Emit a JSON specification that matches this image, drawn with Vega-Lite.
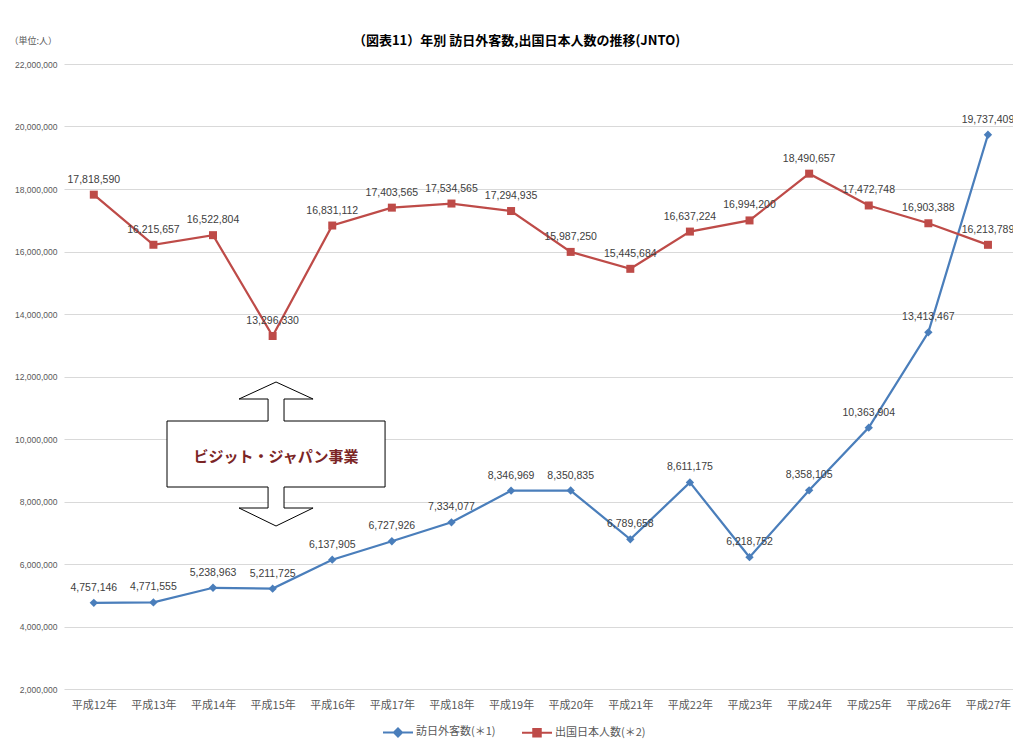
{
  "$schema": "https://vega.github.io/schema/vega-lite/v6.json",
  "width": 949,
  "height": 625,
  "autosize": "none",
  "padding": {"left": 64, "top": 64, "right": 0, "bottom": 53},
  "background": "white",
  "title": {"text": "（図表11）年別 訪日外客数,出国日本人数の推移(JNTO)", "fontSize": 13, "font": "Noto Sans CJK JP", "fontWeight": "bold", "color": "#000000", "anchor": "middle", "dx": -22, "dy": 26, "offset": 14},
  "config": {"view": {"stroke": null}},
  "datasets": {
    "main": [
      {"year": 12, "series": "訪日外客数(＊1)", "value": 4757146},
      {"year": 13, "series": "訪日外客数(＊1)", "value": 4771555},
      {"year": 14, "series": "訪日外客数(＊1)", "value": 5238963},
      {"year": 15, "series": "訪日外客数(＊1)", "value": 5211725},
      {"year": 16, "series": "訪日外客数(＊1)", "value": 6137905},
      {"year": 17, "series": "訪日外客数(＊1)", "value": 6727926},
      {"year": 18, "series": "訪日外客数(＊1)", "value": 7334077},
      {"year": 19, "series": "訪日外客数(＊1)", "value": 8346969},
      {"year": 20, "series": "訪日外客数(＊1)", "value": 8350835},
      {"year": 21, "series": "訪日外客数(＊1)", "value": 6789658},
      {"year": 22, "series": "訪日外客数(＊1)", "value": 8611175},
      {"year": 23, "series": "訪日外客数(＊1)", "value": 6218752},
      {"year": 24, "series": "訪日外客数(＊1)", "value": 8358105},
      {"year": 25, "series": "訪日外客数(＊1)", "value": 10363904},
      {"year": 26, "series": "訪日外客数(＊1)", "value": 13413467},
      {"year": 27, "series": "訪日外客数(＊1)", "value": 19737409},
      {"year": 12, "series": "出国日本人数(＊2)", "value": 17818590},
      {"year": 13, "series": "出国日本人数(＊2)", "value": 16215657},
      {"year": 14, "series": "出国日本人数(＊2)", "value": 16522804},
      {"year": 15, "series": "出国日本人数(＊2)", "value": 13296330},
      {"year": 16, "series": "出国日本人数(＊2)", "value": 16831112},
      {"year": 17, "series": "出国日本人数(＊2)", "value": 17403565},
      {"year": 18, "series": "出国日本人数(＊2)", "value": 17534565},
      {"year": 19, "series": "出国日本人数(＊2)", "value": 17294935},
      {"year": 20, "series": "出国日本人数(＊2)", "value": 15987250},
      {"year": 21, "series": "出国日本人数(＊2)", "value": 15445684},
      {"year": 22, "series": "出国日本人数(＊2)", "value": 16637224},
      {"year": 23, "series": "出国日本人数(＊2)", "value": 16994200},
      {"year": 24, "series": "出国日本人数(＊2)", "value": 18490657},
      {"year": 25, "series": "出国日本人数(＊2)", "value": 17472748},
      {"year": 26, "series": "出国日本人数(＊2)", "value": 16903388},
      {"year": 27, "series": "出国日本人数(＊2)", "value": 16213789}
    ],
    "arrow": [
      {"i": 1, "year": 15.057, "value": 11824000},
      {"i": 2, "year": 15.678, "value": 11280000},
      {"i": 3, "year": 15.191, "value": 11280000},
      {"i": 4, "year": 15.191, "value": 10576000},
      {"i": 5, "year": 16.886, "value": 10576000},
      {"i": 6, "year": 16.886, "value": 8464000},
      {"i": 7, "year": 15.191, "value": 8464000},
      {"i": 8, "year": 15.191, "value": 7792000},
      {"i": 9, "year": 15.678, "value": 7792000},
      {"i": 10, "year": 15.057, "value": 7216000},
      {"i": 11, "year": 14.436, "value": 7792000},
      {"i": 12, "year": 14.923, "value": 7792000},
      {"i": 13, "year": 14.923, "value": 8464000},
      {"i": 14, "year": 13.228, "value": 8464000},
      {"i": 15, "year": 13.228, "value": 10576000},
      {"i": 16, "year": 14.923, "value": 10576000},
      {"i": 17, "year": 14.923, "value": 11280000},
      {"i": 18, "year": 14.436, "value": 11280000}
    ],
    "note": [
      {"year": 15.057, "value": 9424000, "label": "ビジット・ジャパン事業"}
    ]
  },
  "encoding": {
    "x": {
      "field": "year", "type": "quantitative",
      "scale": {"domain": [11.5, 27.42], "nice": false, "zero": false},
      "axis": {"values": [12,13,14,15,16,17,18,19,20,21,22,23,24,25,26,27], "labelExpr": "'平成' + datum.value + '年'", "labelFont": "Noto Sans CJK JP", "labelFontSize": 11, "labelColor": "#595959", "ticks": false, "domain": false, "grid": false, "labelPadding": 10, "title": null, "labelFlush": false}
    },
    "y": {
      "field": "value", "type": "quantitative",
      "scale": {"domain": [2000000, 22000000], "nice": false, "zero": false},
      "axis": {"title": "（単位:人）", "titleAngle": 0, "titleX": -55, "titleY": -24, "titleAlign": "left", "titleBaseline": "middle", "titleFontSize": 9, "titleFontWeight": "normal", "titleColor": "#595959", "titleFont": "Noto Sans CJK JP", "values": [2000000,4000000,6000000,8000000,10000000,12000000,14000000,16000000,18000000,20000000,22000000], "format": ",d", "labelFontSize": 8.5, "labelFont": "Liberation Sans", "labelColor": "#595959", "labelPadding": 7, "ticks": false, "domain": false, "grid": true, "gridColor": "#D9D9D9", "gridWidth": 1}
    }
  },
  "layer": [
    {
      "data": {"name": "main"},
      "mark": {"type": "line", "strokeWidth": 2.25},
      "encoding": {
        "color": {
          "field": "series", "type": "nominal",
          "scale": {"domain": ["訪日外客数(＊1)", "出国日本人数(＊2)"], "range": ["#4A7EBB", "#BE4B48"]},
          "legend": {
            "title": null, "orient": "none", "direction": "horizontal", "legendX": 318, "legendY": 652,
            "labelFont": "Noto Sans CJK JP", "labelFontSize": 11, "labelColor": "#595959",
            "symbolSize": 900, "symbolStrokeWidth": 2, "columnPadding": 22, "labelOffset": 2,
            "encode": {
              "symbols": {
                "update": {
                  "shape": {"signal": "datum.value === '訪日外客数(＊1)' ? 'M-1,0H1M-0.27,0L0,-0.27L0.27,0L0,0.27Z' : 'M-1,0H1M-0.25,-0.25H0.25V0.25H-0.25Z'"},
                  "fill": {"scale": "color", "field": "value"},
                  "stroke": {"scale": "color", "field": "value"}
                }
              }
            }
          }
        }
      }
    },
    {
      "data": {"name": "main"},
      "transform": [{"filter": "datum.series === '訪日外客数(＊1)'"}],
      "mark": {"type": "point", "filled": true, "opacity": 1, "shape": "diamond", "size": 70},
      "encoding": {
        "color": {"field": "series", "type": "nominal"}
      }
    },
    {
      "data": {"name": "main"},
      "transform": [{"filter": "datum.series === '出国日本人数(＊2)'"}],
      "mark": {"type": "point", "filled": true, "opacity": 1, "shape": "square", "size": 64},
      "encoding": {
        "color": {"field": "series", "type": "nominal"}
      }
    },
    {
      "data": {"name": "main"},
      "mark": {"type": "text", "dy": -15, "fontSize": 10.5, "font": "Liberation Sans", "color": "#404040"},
      "encoding": {
        "text": {"field": "value", "type": "quantitative", "format": ",d"}
      }
    },
    {
      "data": {"name": "arrow"},
      "mark": {"type": "line", "interpolate": "linear-closed", "fill": "white", "stroke": "black", "strokeWidth": 1},
      "encoding": {
        "order": {"field": "i", "type": "quantitative"}
      }
    },
    {
      "data": {"name": "note"},
      "mark": {"type": "text", "fontSize": 15, "font": "Noto Sans CJK JP", "fontWeight": "bold", "color": "#7B2525"},
      "encoding": {
        "text": {"field": "label", "type": "nominal"}
      }
    }
  ]
}
